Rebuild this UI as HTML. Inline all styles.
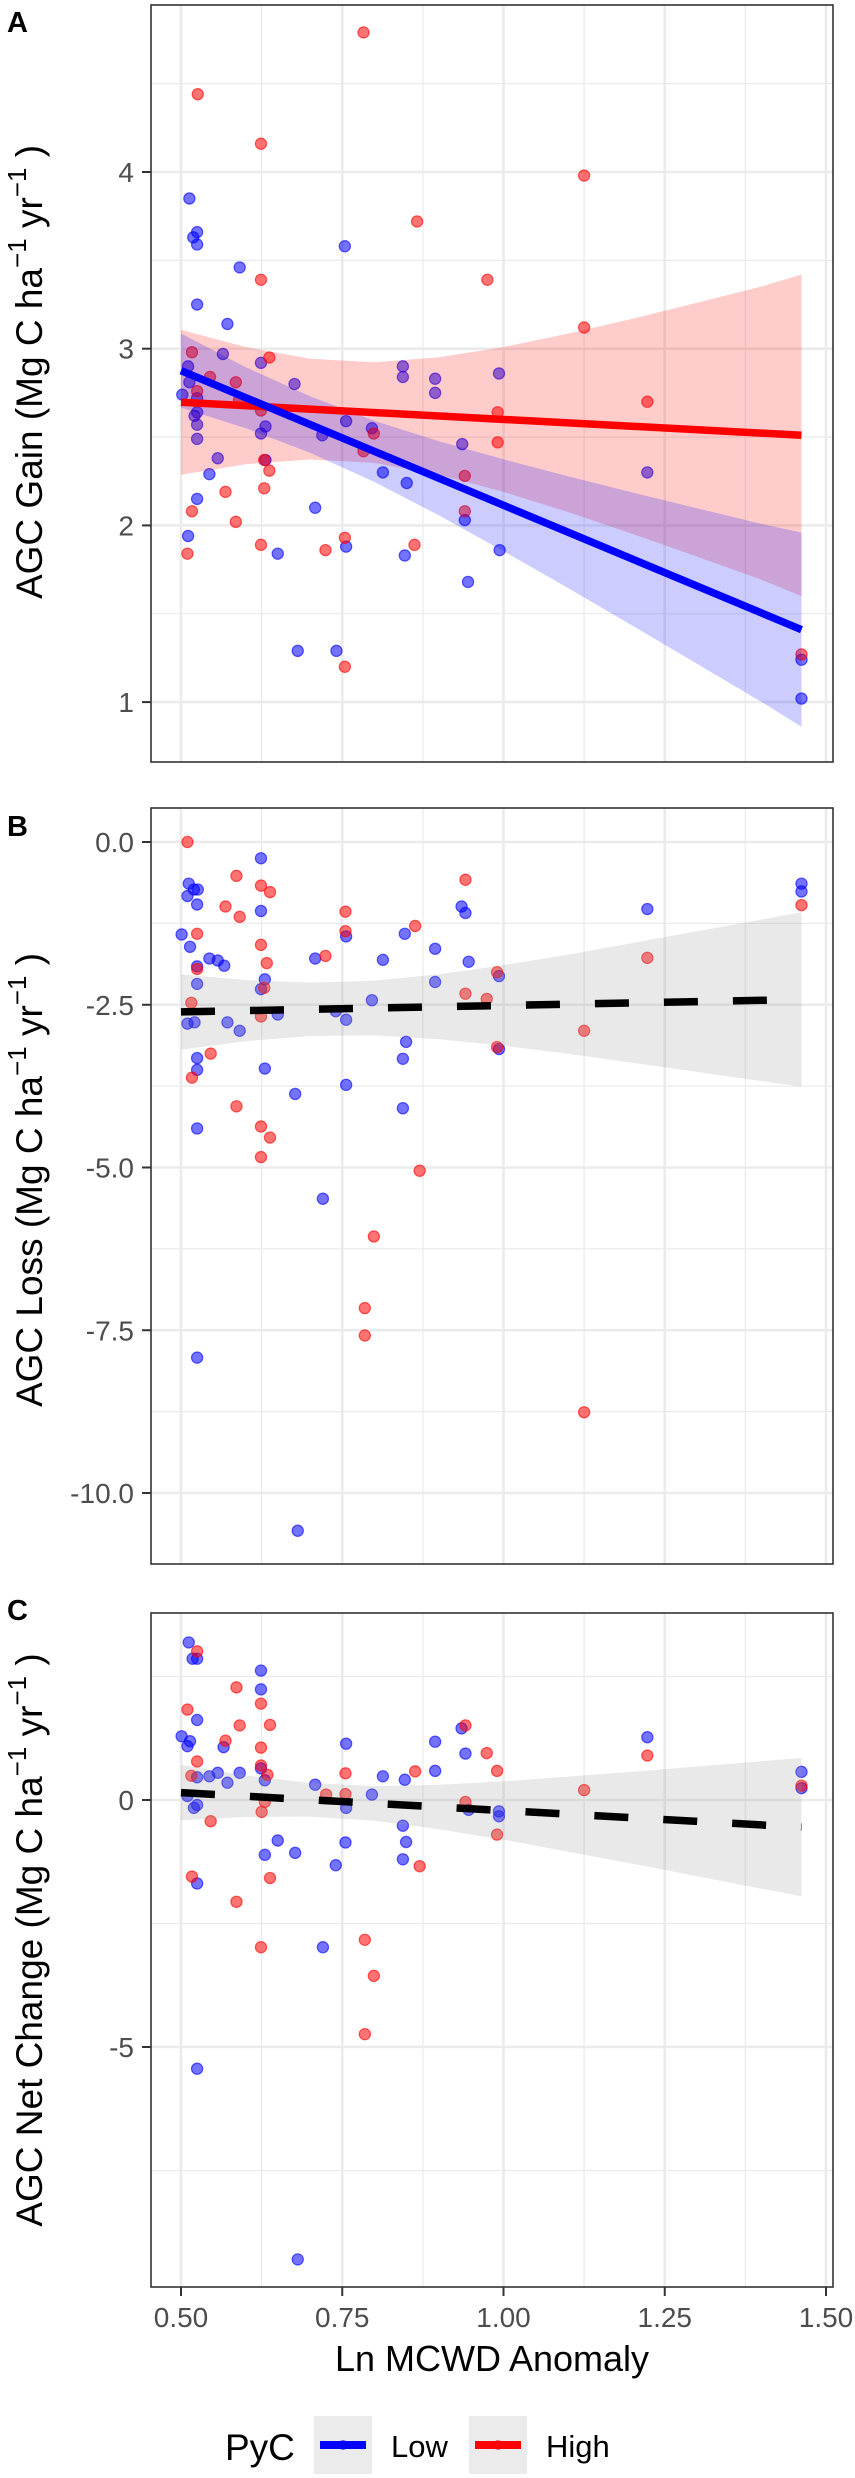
<!DOCTYPE html>
<html>
<head>
<meta charset="utf-8">
<style>
  html,body{margin:0;padding:0;background:#fff;}
  svg{display:block;}
  text{font-family:"Liberation Sans",sans-serif;}
</style>
</head>
<body>
<svg id="fig" width="855" height="2478" viewBox="0 0 855 2478" xmlns="http://www.w3.org/2000/svg"></svg>
<script>
// ---------- shared x axis ----------
const xTicks = [0.5, 0.75, 1.0, 1.25, 1.5];
const xTickLabels = ["0.50", "0.75", "1.00", "1.25", "1.50"];
const xMinor = [0.625, 0.875, 1.125, 1.375];
const bandX = [0.5, 0.6, 0.7, 0.8, 0.9, 1.0, 1.1, 1.2, 1.3, 1.4, 1.462];
const fitX = [0.5, 1.462];

// ---------- Panel A : AGC Gain ----------
const aLowX = [0.513,0.525,0.519,0.525,0.754,0.591,0.525,0.572,0.565,0.511,0.513,0.502,0.525,0.525,0.521,0.525,0.525,0.624,0.676,0.844,0.844,0.894,0.894,0.993,0.631,0.624,0.719,0.756,0.796,0.557,0.631,0.544,0.813,0.850,0.525,0.708,0.936,0.940,0.511,0.650,0.756,0.847,0.994,0.945,1.223,0.681,0.741,1.462,1.462];
const aLowY = [3.85,3.66,3.63,3.59,3.58,3.46,3.25,3.14,2.97,2.90,2.81,2.74,2.72,2.64,2.62,2.57,2.49,2.92,2.80,2.90,2.84,2.83,2.75,2.86,2.56,2.52,2.51,2.59,2.55,2.38,2.37,2.29,2.30,2.24,2.15,2.10,2.46,2.03,1.94,1.84,1.88,1.83,1.86,1.68,2.30,1.29,1.29,1.24,1.02];
const aHighX = [0.783,0.526,0.624,1.125,0.866,0.624,0.975,1.125,0.517,0.637,0.545,0.585,0.525,0.590,0.624,0.991,1.223,0.799,0.783,0.991,0.629,0.637,0.940,0.569,0.629,0.517,0.585,0.940,0.510,0.624,0.754,0.724,0.862,0.754,1.462];
const aHighY = [4.79,4.44,4.16,3.98,3.72,3.39,3.39,3.12,2.98,2.95,2.84,2.81,2.76,2.71,2.65,2.64,2.70,2.52,2.42,2.47,2.37,2.31,2.28,2.19,2.21,2.08,2.02,2.08,1.84,1.89,1.93,1.86,1.89,1.20,1.27];
const aLowFit = [2.876, 1.41];
const aHighFit = [2.697, 2.51];
const aLowHalf = [0.21,0.173,0.16,0.173,0.21,0.26,0.316,0.377,0.44,0.504,0.55];
const aHighHalf = [0.41,0.332,0.285,0.285,0.332,0.41,0.505,0.609,0.718,0.83,0.91];
const aTicks = [1, 2, 3, 4];
const aTickLabels = ["1", "2", "3", "4"];
const aMinor = [1.5, 2.5, 3.5, 4.5];

// ---------- Panel B : AGC Loss ----------
const bLowX = [0.624,0.512,0.520,0.526,0.510,0.525,0.624,0.501,0.514,0.544,0.557,0.567,0.525,0.525,0.630,0.624,0.510,0.521,0.572,0.591,0.650,0.525,0.525,0.630,0.525,0.677,0.708,0.756,0.756,0.740,0.756,0.796,0.813,0.847,0.894,0.894,0.849,0.844,0.844,0.935,0.941,0.946,0.993,0.993,1.223,1.462,1.462,0.720,0.525,0.681];
const bLowY = [-0.25,-0.64,-0.73,-0.73,-0.83,-0.96,-1.06,-1.42,-1.61,-1.79,-1.82,-1.90,-1.91,-2.18,-2.11,-2.26,-2.79,-2.77,-2.77,-2.90,-2.65,-3.32,-3.50,-3.48,-4.40,-3.87,-1.79,-1.45,-2.73,-2.60,-3.73,-2.43,-1.81,-1.41,-1.64,-2.15,-3.07,-3.33,-4.09,-0.99,-1.09,-1.84,-2.06,-3.18,-1.03,-0.64,-0.76,-5.48,-7.92,-10.58];
const bHighX = [0.510,0.586,0.624,0.638,0.569,0.591,0.525,0.624,0.633,0.525,0.516,0.629,0.624,0.546,0.517,0.586,0.624,0.638,0.624,0.755,0.755,0.724,0.863,0.941,0.941,0.974,0.990,0.990,1.125,1.223,1.462,0.870,0.799,0.785,0.785,1.125];
const bHighY = [0.00,-0.52,-0.67,-0.77,-0.99,-1.15,-1.41,-1.58,-1.86,-1.95,-2.47,-2.24,-2.68,-3.25,-3.62,-4.06,-4.37,-4.54,-4.84,-1.07,-1.37,-1.75,-1.29,-0.58,-2.33,-2.41,-2.00,-3.15,-2.90,-1.78,-0.97,-5.05,-6.06,-7.16,-7.58,-8.76];
const bFit = [-2.61, -2.42];
const bHalf = [0.58,0.47,0.41,0.42,0.50,0.62,0.76,0.92,1.08,1.24,1.34];
const bTicks = [0, -2.5, -5, -7.5, -10];
const bTickLabels = ["0.0", "-2.5", "-5.0", "-7.5", "-10.0"];
const bMinor = [-1.25, -3.75, -6.25, -8.75];

// ---------- Panel C : AGC Net Change ----------
const cLowX = [0.512,0.518,0.525,0.624,0.624,0.525,0.501,0.514,0.510,0.566,0.544,0.557,0.572,0.591,0.525,0.510,0.525,0.520,0.624,0.630,0.650,0.630,0.525,0.677,0.708,0.756,0.756,0.755,0.740,0.796,0.813,0.847,0.894,0.894,0.844,0.849,0.844,0.935,0.941,0.946,0.993,0.993,1.223,1.462,1.462,0.720,0.525,0.681];
const cLowY = [3.19,2.86,2.86,2.62,2.24,1.62,1.29,1.19,1.09,1.07,0.48,0.55,0.35,0.55,0.46,0.08,-0.10,-0.16,0.64,0.40,-0.82,-1.11,-1.69,-1.07,0.31,1.14,-0.16,-0.86,-1.32,0.11,0.48,0.41,1.18,0.59,-0.52,-0.85,-1.20,1.45,0.94,-0.20,-0.23,-0.33,1.27,0.57,0.24,-2.98,-5.44,-9.30];
const cHighX = [0.525,0.510,0.586,0.624,0.591,0.638,0.569,0.624,0.525,0.516,0.624,0.634,0.630,0.625,0.546,0.517,0.638,0.586,0.624,0.725,0.755,0.755,0.863,0.941,0.941,0.974,0.990,0.990,0.870,0.785,0.799,0.785,1.125,1.223,1.462];
const cHighY = [3.01,1.83,2.28,1.95,1.51,1.52,1.20,1.06,0.78,0.49,0.70,0.51,-0.04,-0.24,-0.43,-1.55,-1.58,-2.06,-2.98,0.11,0.54,0.12,0.58,1.51,-0.04,0.95,0.59,-0.70,-1.34,-2.83,-3.56,-4.74,0.20,0.90,0.29];
const cFit = [0.15, -0.55];
const cHalf = [0.56,0.42,0.34,0.35,0.45,0.59,0.76,0.93,1.11,1.29,1.40];
const cTicks = [0, -5];
const cTickLabels = ["0", "-5"];
const cMinor = [2.5, -2.5, -7.5];

// ---------- layout ----------
const NS = "http://www.w3.org/2000/svg";
const svg = document.getElementById("fig");
const PL = 151, PR = 833;
const xScale = v => 181 + (v - 0.5) * 645;

function mk(tag, attrs, parent) {
  const e = document.createElementNS(NS, tag);
  for (const k in attrs) e.setAttribute(k, attrs[k]);
  (parent || svg).appendChild(e);
  return e;
}

function panel(cfg) {
  const g = mk("g", {});
  
  
  const y = cfg.yScale;
  // background
  const bg = mk("rect", {x: PL, y: cfg.top, width: PR - PL, height: cfg.bottom - cfg.top, fill: "#fff"}, g);
  
  
  // minor gridlines
  cfg.minor.forEach(v => {
    const l = mk("line", {x1: PL, x2: PR, y1: y(v), y2: y(v), stroke: "#ebebeb", "stroke-width": 1.3}, g);
    
    
  });
  xMinor.forEach(v => {
    const l = mk("line", {x1: xScale(v), x2: xScale(v), y1: cfg.top, y2: cfg.bottom, stroke: "#ebebeb", "stroke-width": 1.3}, g);
    
    
  });
  cfg.ticks.forEach(v => {
    const l = mk("line", {x1: PL, x2: PR, y1: y(v), y2: y(v), stroke: "#ebebeb", "stroke-width": 2.6}, g);
    
    
  });
  xTicks.forEach(v => {
    const l = mk("line", {x1: xScale(v), x2: xScale(v), y1: cfg.top, y2: cfg.bottom, stroke: "#ebebeb", "stroke-width": 2.6}, g);
    
    
  });
  // points
  cfg.series.forEach(s => {
    s.xs.forEach((xv, i) => {
      const c = mk("circle", {cx: xScale(xv), cy: y(s.ys[i]), r: 5.6, fill: s.fill, "fill-opacity": 0.55, stroke: s.fill, "stroke-opacity": 0.6, "stroke-width": 1.2}, g);
      
      
    });
  });
  // bands
  cfg.fits.forEach(f => {
    const slope = (f.fit[1] - f.fit[0]) / (fitX[1] - fitX[0]);
    const center = xv => f.fit[0] + slope * (xv - fitX[0]);
    let d = "";
    bandX.forEach((xv, i) => { d += (i ? "L" : "M") + xScale(xv).toFixed(1) + "," + y(center(xv) + f.half[i]).toFixed(1); });
    for (let i = bandX.length - 1; i >= 0; i--) d += "L" + xScale(bandX[i]).toFixed(1) + "," + y(center(bandX[i]) - f.half[i]).toFixed(1);
    const p = mk("path", {d: d + "Z", fill: f.bandFill, "fill-opacity": f.bandOpacity, stroke: "none"}, g);
    
    
  });
  cfg.fits.forEach(f => {
    const l = mk("line", {x1: xScale(fitX[0]), y1: y(f.fit[0]), x2: xScale(fitX[1]), y2: y(f.fit[1]), stroke: f.color, "stroke-width": 7.5}, g);
    if (f.dash) l.setAttribute("stroke-dasharray", "34 35");
    
    
  });
  // border
  const b = mk("rect", {x: PL, y: cfg.top, width: PR - PL, height: cfg.bottom - cfg.top, fill: "none", stroke: "#333", "stroke-width": 1.6}, g);
  
  
  // y ticks
  cfg.ticks.forEach((v, i) => {
    const t = mk("line", {x1: 142, x2: PL, y1: y(v), y2: y(v), stroke: "#333", "stroke-width": 2}, g);
    
    
    const tx = mk("text", {x: 134, y: y(v) + 10, "text-anchor": "end", "font-size": 28, fill: "#4d4d4d"}, g);
    tx.textContent = cfg.tickLabels[i];
    
    
  });
  // panel letter
  const L = mk("text", {x: 7, y: cfg.letterY, "font-size": 29, "font-weight": "bold", fill: "#000"}, g);
  L.textContent = cfg.letter;
  
  
  // y title
  const T = mk("text", {transform: "translate(42," + cfg.titleY + ") rotate(-90)", "text-anchor": "middle", "font-size": 37, fill: "#000"}, g);
  
  
  const parts = [[cfg.title + " (Mg C  ha", 0], ["−1", 1], [" yr", 0], ["−1", 1], [" )", 0]];
  parts.forEach(p => {
    const s = mk("tspan", {}, T);
    if (p[1]) { s.setAttribute("font-size", 26); s.setAttribute("dy", -16); }
    else if (s.previousSibling) { s.setAttribute("dy", 16); }
    s.textContent = p[0];
  });
}

panel({name: "panel-a-agc-gain", top: 5, bottom: 762, yScale: v => 172 + (4 - v) * 176.7,
  ticks: aTicks, tickLabels: aTickLabels, minor: aMinor, letter: "A", letterY: 32, title: "AGC Gain", titleY: 372,
  series: [{xs: aLowX, ys: aLowY, fill: "#0000ff", pointName: "point-low-pyc"}, {xs: aHighX, ys: aHighY, fill: "#ff0000", pointName: "point-high-pyc"}],
  fits: [
    {fit: aHighFit, half: aHighHalf, bandFill: "#ff0000", bandOpacity: 0.2, color: "#ff0000", bandName: "ci-band-high", lineName: "fit-line-high"},
    {fit: aLowFit, half: aLowHalf, bandFill: "#0000ff", bandOpacity: 0.2, color: "#0000ff", bandName: "ci-band-low", lineName: "fit-line-low"}
  ]});

panel({name: "panel-b-agc-loss", top: 808, bottom: 1564, yScale: v => 842 - v * 65.1,
  ticks: bTicks, tickLabels: bTickLabels, minor: bMinor, letter: "B", letterY: 836, title: "AGC Loss", titleY: 1180,
  series: [{xs: bLowX, ys: bLowY, fill: "#0000ff", pointName: "point-low-pyc"}, {xs: bHighX, ys: bHighY, fill: "#ff0000", pointName: "point-high-pyc"}],
  fits: [{fit: bFit, half: bHalf, bandFill: "#999999", bandOpacity: 0.22, color: "#000", dash: true, bandName: "ci-band", lineName: "fit-line"}]});

panel({name: "panel-c-agc-net-change", top: 1613, bottom: 2287, yScale: v => 1800 - v * 49.4,
  ticks: cTicks, tickLabels: cTickLabels, minor: cMinor, letter: "C", letterY: 1620, title: "AGC Net Change", titleY: 1940,
  series: [{xs: cLowX, ys: cLowY, fill: "#0000ff", pointName: "point-low-pyc"}, {xs: cHighX, ys: cHighY, fill: "#ff0000", pointName: "point-high-pyc"}],
  fits: [{fit: cFit, half: cHalf, bandFill: "#999999", bandOpacity: 0.22, color: "#000", dash: true, bandName: "ci-band", lineName: "fit-line"}]});

// x axis (bottom panel only)
xTicks.forEach((v, i) => {
  const t = mk("line", {x1: xScale(v), x2: xScale(v), y1: 2287, y2: 2296, stroke: "#333", "stroke-width": 2});
  
  
  const tx = mk("text", {x: xScale(v), y: 2327, "text-anchor": "middle", "font-size": 28, fill: "#4d4d4d"});
  tx.textContent = xTickLabels[i];
  
  
});
const xt = mk("text", {x: 492, y: 2371, "text-anchor": "middle", "font-size": 36, fill: "#000"});
xt.textContent = "Ln MCWD Anomaly";



// legend
const legendLabels = ["Low", "High"];
const legendColors = ["#0000ff", "#ff0000"];
const lg = mk("g", {});


const lt = mk("text", {x: 225, y: 2460, "font-size": 37, fill: "#000"}, lg);
lt.textContent = "PyC";


legendLabels.forEach((lab, i) => {
  const bx = 314 + i * 155;
  const key = mk("rect", {x: bx, y: 2416, width: 58, height: 58, fill: "#ebebeb"}, lg);
  
  
  const kl = mk("line", {x1: bx + 6, x2: bx + 52, y1: 2445, y2: 2445, stroke: legendColors[i], "stroke-width": 8}, lg);
  
  
  const kc = mk("circle", {cx: bx + 29, cy: 2445, r: 5, fill: legendColors[i], "fill-opacity": 0.6}, lg);
  
  
  const tx = mk("text", {x: bx + 77, y: 2457, "font-size": 31, fill: "#000"}, lg);
  tx.textContent = lab;
  
  
});
</script>
</body>
</html>
